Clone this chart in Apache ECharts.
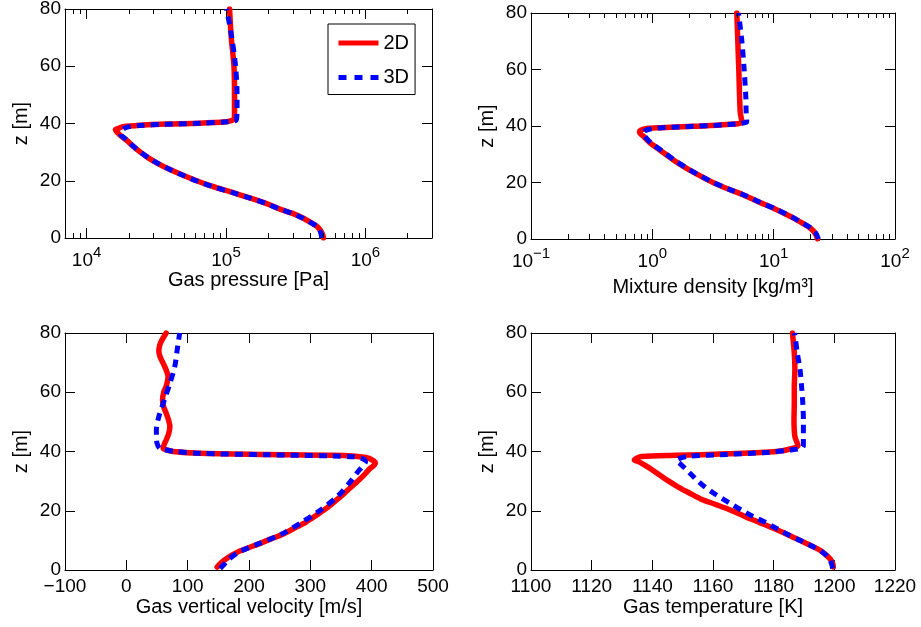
<!DOCTYPE html>
<html><head><meta charset="utf-8">
<script src="https://cdn.jsdelivr.net/npm/echarts@6/dist/echarts.min.js"></script>
<style>html,body{margin:0;padding:0;background:#fff}#c{width:921px;height:627px}</style>
</head><body><div id="c"></div>
<script>
// ---------------- data ----------------
const pressureZ2D = [0, 1.5, 3, 4, 5, 7, 8.6, 10, 12, 14, 16, 18, 20, 22, 24, 26, 28, 30, 32, 34, 35, 36, 37, 37.8, 38.3, 38.9, 39.2, 39.4, 39.8, 40.1, 40.6, 41, 41.5, 43, 50, 60, 70, 80];
const pressure2D  = [5.0e5, 4.9e5, 4.7e5, 4.51e5, 4.19e5, 3.55e5, 3.0e5, 2.46e5, 1.955e5, 1.476e5, 1.095e5, 8.0e4, 6.14e4, 4.87e4, 3.93e4, 3.25e4, 2.77e4, 2.43e4, 2.16e4, 1.95e4, 1.84e4, 1.73e4, 1.65e4, 1.61e4, 1.69e4, 1.82e4, 2.2e4, 2.39e4, 3.73e4, 6.45e4, 1.0e5, 1.09e5, 1.14e5, 1.15e5, 1.15e5, 1.14e5, 1.09e5, 1.06e5];
const pressureZ3D = [0, 1.5, 3, 4, 5, 7, 8.6, 10, 12, 14, 16, 18, 20, 22, 24, 26, 28, 30, 32, 34, 35, 36, 37, 37.6, 38.3, 38.9, 39.3, 39.7, 40.1, 40.6, 41, 41.5, 45, 50, 60, 70, 80];
const pressure3D  = [4.85e5, 4.8e5, 4.66e5, 4.5e5, 4.17e5, 3.53e5, 2.99e5, 2.45e5, 1.95e5, 1.47e5, 1.09e5, 7.97e4, 6.12e4, 4.86e4, 3.93e4, 3.26e4, 2.78e4, 2.44e4, 2.17e4, 1.96e4, 1.86e4, 1.76e4, 1.76e4, 1.79e4, 1.87e4, 2.03e4, 2.39e4, 3.68e4, 6.45e4, 1.03e5, 1.17e5, 1.19e5, 1.2e5, 1.2e5, 1.17e5, 1.1e5, 1.01e5];

const densityZ2D = [0, 2, 3.9, 5.5, 7.4, 9, 10.9, 13, 15.6, 17.5, 19.9, 22.5, 25, 28, 31.4, 34, 36, 37.9, 38.5, 39.1, 39.4, 39.9, 40.5, 41.4, 45, 60, 80];
const density2D  = [23.0, 22.0, 20.0, 17.4, 14.6, 12.3, 9.97, 7.64, 5.64, 4.32, 3.19, 2.44, 1.92, 1.49, 1.16, 0.958, 0.861, 0.783, 0.8, 0.9, 1.16, 2.18, 4.11, 5.47, 5.3, 5.16, 4.97];
const densityZ3D = [0, 2, 3.9, 5.5, 7.4, 9, 10.9, 13, 15.6, 17.5, 19.9, 22.5, 25, 28, 31.4, 34, 36, 37.5, 38.3, 39, 39.4, 39.9, 40.5, 41, 41.5, 45, 50, 60, 70, 80];
const density3D  = [23.4, 22.3, 20.2, 17.6, 14.7, 12.4, 10.0, 7.7, 5.68, 4.35, 3.22, 2.46, 1.94, 1.51, 1.18, 0.975, 0.88, 0.84, 0.87, 0.98, 1.2, 2.2, 4.2, 5.5, 6.0, 5.93, 5.9, 5.71, 5.47, 5.13];

const velocityZ2D = [1.0, 2.5, 3.8, 5, 6.4, 8.9, 10.5, 12.1, 14, 16.2, 18.5, 20.8, 23.5, 26.4, 29, 31.5, 34, 36, 37, 38, 38.7, 39, 39.4, 40, 40.6, 41.1, 42.5, 43.9, 46, 48.4, 50.5, 52.9, 55, 57.4, 60, 62, 65.3, 67.5, 69.8, 72, 73.8, 75.5, 77.2, 80];
const velocity2D  = [148, 155, 163, 172, 185, 217, 236, 255, 273, 293, 310, 326, 342, 358, 372, 385, 396, 406, 402, 391, 337, 228, 119, 76, 64, 60, 62, 65, 69, 71, 69, 65, 61, 59, 61, 65, 68, 65, 60, 55, 53, 54, 57, 65];
const velocityZ3D = [0.5, 2, 3.8, 6.4, 8.9, 12.1, 16.2, 20, 25, 30, 33, 35, 36.5, 37.5, 38.2, 38.5, 38.9, 39.4, 40.1, 40.7, 41.1, 42.8, 45, 47.3, 51.8, 57.4, 63, 68.7, 74.4, 80];
const velocity3D  = [153, 160, 168, 187, 216, 253, 287, 315, 345, 366, 377, 385, 390, 386, 370, 337, 228, 119, 76, 60, 54, 50, 49, 49, 53, 62, 71, 79, 83, 87];

const temperatureZ2D = [1, 2.5, 3.8, 5.2, 6.7, 8.3, 10, 12, 14, 16, 18, 20, 22, 24, 26, 28, 30, 32, 34, 35.5, 36.5, 37.1, 37.8, 38.3, 38.7, 39.2, 40, 41.1, 42, 45, 50.7, 56.3, 62, 67.6, 73.2, 80];
const temperature2D  = [1199.67, 1199.34, 1198.57, 1197.14, 1195.27, 1192.2, 1188.68, 1184.51, 1180.11, 1175.38, 1170.66, 1166.26, 1161.21, 1155.93, 1152.2, 1148.57, 1145.38, 1142.53, 1139.67, 1137.36, 1135.6, 1134.07, 1135.0, 1136.5, 1148, 1164.5, 1181, 1186.5, 1188, 1187, 1186.7, 1186.8, 1186.8, 1187, 1186.8, 1186.2];
const temperatureZ3D = [0.5, 2, 4, 6, 8, 10, 12, 14, 16, 18, 20, 22, 24, 26, 28, 30, 32, 34, 36, 36.9, 38.3, 39, 39.7, 40.5, 41.1, 42, 45, 50.7, 56.3, 62, 67.6, 73.2, 80];
const temperature3D  = [1199.45, 1199.12, 1198.24, 1196.15, 1192.75, 1188.68, 1184.62, 1180.99, 1177.47, 1173.3, 1169.78, 1166.48, 1163.19, 1160.11, 1157.36, 1155.05, 1153.08, 1151.1, 1149.01, 1147.91, 1151.3, 1164.5, 1177.7, 1185.4, 1189.2, 1189.8, 1189.8, 1189.8, 1189.6, 1189.2, 1188.7, 1187.8, 1186.9];

const pressureMinorTicks = [8e3, 9e3, 2e4, 3e4, 4e4, 5e4, 6e4, 7e4, 8e4, 9e4, 2e5, 3e5, 4e5, 5e5, 6e5, 7e5, 8e5, 9e5, 2e6];
const densityMinorTicks = [0.2, 0.3, 0.4, 0.5, 0.6, 0.7, 0.8, 0.9, 2, 3, 4, 5, 6, 7, 8, 9, 20, 30, 40, 50, 60, 70, 80, 90];

const xTitles = ['Gas pressure [Pa]', 'Mixture density [kg/m\u00b3]', 'Gas vertical velocity [m/s]', 'Gas temperature [K]'];
const yTitle = 'z [m]';
const seriesNames = ['2D', '3D'];

// ---------------- layout / styling ----------------
const FONT = '"Liberation Sans", Arial, Helvetica, sans-serif';
const grids = [
  {left: 65, top: 9, width: 367, height: 229},
  {left: 531, top: 13, width: 364, height: 226},
  {left: 65, top: 333, width: 368, height: 237},
  {left: 531, top: 333, width: 364, height: 237}
].map(g => Object.assign({outerBoundsMode: 'none', containLabel: false, show: false}, g));

const xSpecs = [
  {type: 'log', logBase: 10, min: 7000, max: 3e6, nameGap: 30},
  {type: 'log', logBase: 10, min: 0.1, max: 100, nameGap: 38},
  {type: 'value', min: -100, max: 500, interval: 100, nameGap: 27},
  {type: 'value', min: 1100, max: 1220, interval: 20, nameGap: 27}
];

function logLabel(v) {
  const e = Math.log10(v);
  const r = Math.round(e);
  if (Math.abs(e - r) > 1e-6) return '';
  return '{b|10}{s|' + (r < 0 ? '\u2212' + (-r) : r) + '}';
}
function linLabel(v) { return String(v).replace('-', '\u2212'); }

const axisLine = {show: true, onZero: false, lineStyle: {color: '#000', width: 1}};
const tickStyle = {show: true, inside: true, length: 10, lineStyle: {color: '#000', width: 1}};

const xAxis = [];
const yAxis = [];
for (let i = 0; i < 4; i++) {
  const s = xSpecs[i];
  const base = {gridIndex: i, type: s.type, min: s.min, max: s.max, splitLine: {show: false}, axisLine: axisLine, axisTick: tickStyle};
  if (s.type === 'log') base.logBase = s.logBase; else base.interval = s.interval;
  xAxis.push(Object.assign({}, base, {
    position: 'bottom',
    name: xTitles[i], nameLocation: 'middle', nameGap: s.nameGap,
    nameTextStyle: {fontFamily: FONT, fontSize: 20, color: '#000'},
    axisLabel: s.type === 'log' ? {
      show: true, margin: 7, formatter: logLabel, showMinLabel: true, showMaxLabel: true,
      rich: {
        b: {fontFamily: FONT, fontSize: 19, color: '#000', verticalAlign: 'bottom'},
        s: {fontFamily: FONT, fontSize: 15, color: '#000', verticalAlign: 'bottom', padding: [0, 0, 10, 0]}
      }
    } : {show: true, margin: 7, formatter: linLabel, fontFamily: FONT, fontSize: 19, color: '#000', showMinLabel: true, showMaxLabel: true}
  }));
}
for (let i = 0; i < 4; i++) {
  const s = xSpecs[i];
  const base = {gridIndex: i, type: s.type, min: s.min, max: s.max, splitLine: {show: false}, axisLine: axisLine, axisTick: tickStyle, axisLabel: {show: false}, position: 'top'};
  if (s.type === 'log') base.logBase = s.logBase; else base.interval = s.interval;
  xAxis.push(base);
}
for (let i = 0; i < 4; i++) {
  yAxis.push({
    gridIndex: i, type: 'value', min: 0, max: 80, interval: 20, position: 'left',
    splitLine: {show: false}, axisLine: axisLine, axisTick: tickStyle,
    name: yTitle, nameLocation: 'middle', nameGap: 34,
    nameTextStyle: {fontFamily: FONT, fontSize: 20, color: '#000'},
    axisLabel: {show: true, margin: 4, fontFamily: FONT, fontSize: 19, color: '#000', showMinLabel: true, showMaxLabel: true}
  });
}
for (let i = 0; i < 4; i++) {
  yAxis.push({
    gridIndex: i, type: 'value', min: 0, max: 80, interval: 20, position: 'right',
    splitLine: {show: false}, axisLine: axisLine, axisTick: tickStyle, axisLabel: {show: false}
  });
}

function pairs(xs, zs) { return xs.map((x, i) => [x, zs[i]]); }
const plots = [
  [pressure2D, pressureZ2D, pressure3D, pressureZ3D],
  [density2D, densityZ2D, density3D, densityZ3D],
  [velocity2D, velocityZ2D, velocity3D, velocityZ3D],
  [temperature2D, temperatureZ2D, temperature3D, temperatureZ3D]
];
const series = [];
plots.forEach((p, i) => {
  series.push({
    name: seriesNames[0], type: 'line', xAxisIndex: i, yAxisIndex: i, data: pairs(p[0], p[1]),
    symbol: 'none', showSymbol: false, silent: true, z: 2, smooth: 0.3,
    lineStyle: {color: '#ff0000', width: 5.5, join: 'round', cap: 'round'}, itemStyle: {color: '#ff0000'}
  });
  series.push({
    name: seriesNames[1], type: 'line', xAxisIndex: i, yAxisIndex: i, data: pairs(p[2], p[3]),
    symbol: 'none', showSymbol: false, silent: true, z: 3, smooth: 0.3,
    lineStyle: {color: '#0000ff', width: 5, type: [8, 6], cap: 'butt', join: 'miter'}, itemStyle: {color: '#0000ff'}
  });
});

function minorTickSeries(idx, ticks) {
  return {
    type: 'custom', xAxisIndex: idx, yAxisIndex: idx, silent: true, z: 5,
    data: ticks.map(v => [v, 0]), encode: {x: 0, y: 1},
    renderItem: function (params, api) {
      const v = api.value(0);
      const b = api.coord([v, 0]);
      const t = api.coord([v, 80]);
      const x = Math.round(b[0]) + 0.5;
      return {type: 'group', children: [
        {type: 'line', shape: {x1: x, y1: b[1], x2: x, y2: b[1] - 5}, style: {stroke: '#000', lineWidth: 1}},
        {type: 'line', shape: {x1: x, y1: t[1], x2: x, y2: t[1] + 5}, style: {stroke: '#000', lineWidth: 1}}
      ]};
    }
  };
}
series.push(minorTickSeries(0, pressureMinorTicks));
series.push(minorTickSeries(1, densityMinorTicks));

const option = {
  animation: false,
  backgroundColor: '#fff',
  textStyle: {fontFamily: FONT, color: '#000'},
  grid: grids,
  xAxis: xAxis,
  yAxis: yAxis,
  legend: {
    data: [
      {name: seriesNames[0], lineStyle: {width: 5, type: 'solid', color: '#ff0000', cap: 'butt'}},
      {name: seriesNames[1], lineStyle: {width: 5, type: [8, 8], color: '#0000ff', cap: 'butt'}}
    ],
    orient: 'vertical', left: 328, top: 24,
    itemWidth: 40, itemHeight: 14, itemGap: 14.5,
    padding: [9, 6, 7, 8], borderColor: '#000', borderWidth: 1, backgroundColor: '#fff',
    itemStyle: {opacity: 0, borderWidth: 0},
    textStyle: {fontFamily: FONT, fontSize: 20, color: '#000'},
    selectedMode: false
  },
  series: series
};
const chart = echarts.init(document.getElementById('c'), null, {renderer: 'canvas'});
chart.setOption(option);
</script></body></html>
